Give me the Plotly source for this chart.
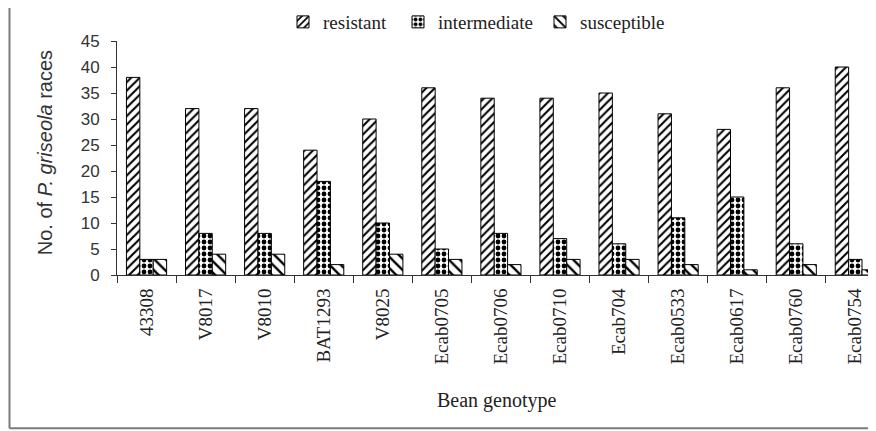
import plotly.graph_objects as go

genotypes = ["43308", "V8017", "V8010", "BAT1293", "V8025", "Ecab0705", "Ecab0706",
             "Ecab0710", "Ecab704", "Ecab0533", "Ecab0617", "Ecab0760", "Ecab0754"]
resistant = [38, 32, 32, 24, 30, 36, 34, 34, 35, 31, 28, 36, 40]
intermediate = [3, 8, 8, 18, 10, 5, 8, 7, 6, 11, 15, 6, 3]
susceptible = [3, 4, 4, 2, 4, 3, 2, 3, 3, 2, 1, 2, 1]
y_ticks = [0, 5, 10, 15, 20, 25, 30, 35, 40, 45]

SERIF = "Liberation Serif, Times New Roman, serif"
SANS = "Liberation Sans, Arial, sans-serif"
OFF = 8  # page body margin of the rendered html
W, H = 876, 431
# plot area in screen pixels
SL, SR, ST, SB = 117, 876, 41, 275.5
ML, MT = SL - OFF, ST - OFF
MR = W - (SR - OFF)
MB = H - (SB - OFF)
PW, PH = W - ML - MR, H - MT - MB


def px_x(p):
    return (p - OFF - ML) / PW


def px_y(p):
    return (H - MB - (p - OFF)) / PH


fig = go.Figure()
series = [
    ("resistant", resistant, "/", 6, 0.35, "legend", 283),
    ("intermediate", intermediate, ".", 6, 0.5, "legend2", 398),
    ("susceptible", susceptible, "\\", 8, 0.3, "legend3", 540),
]
legends = {}
for name, vals, shape, size, sol, lg, lx in series:
    fig.add_trace(go.Bar(
        name=name, x=genotypes, y=vals, legend=lg,
        marker=dict(color="white", line=dict(color="black", width=1),
                    pattern=dict(shape=shape, size=size, solidity=sol,
                                 fgcolor="black", bgcolor="white", fillmode="replace")),
    ))
    legends[lg] = dict(orientation="h", x=px_x(lx), xanchor="left", y=px_y(22),
                       yanchor="middle", font=dict(family=SERIF, size=19, color="#222"),
                       bgcolor="rgba(0,0,0,0)", borderwidth=0, itemwidth=30)

border = "#7a7a7a"
for x0, y0, x1, y1 in [
    (px_x(9.5), px_y(7), px_x(9.5), px_y(429)),
    (px_x(9.5), px_y(7), px_x(890), px_y(7)),
    (px_x(9.5), px_y(429), px_x(890), px_y(429)),
]:
    fig.add_shape(type="line", xref="paper", yref="paper", x0=x0, y0=y0, x1=x1, y1=y1,
                  line=dict(color=border, width=2))

fig.add_annotation(text="No. of <i>P. griseola</i> races", xref="paper", yref="paper",
                   x=px_x(45), y=px_y(153.5), xanchor="center", yanchor="middle",
                   textangle=-90, showarrow=False,
                   font=dict(family=SANS, size=20, color="#333"))
fig.add_annotation(text="Bean genotype", xref="paper", yref="paper",
                   x=px_x(497), y=px_y(401), xanchor="center", yanchor="middle",
                   showarrow=False,
                   font=dict(family=SERIF, size=20, color="#222"))

fig.update_layout(
    width=W, height=H,
    margin=dict(l=ML, r=MR, t=MT, b=MB, autoexpand=False),
    paper_bgcolor="white", plot_bgcolor="white",
    barmode="group", bargap=0.32, bargroupgap=0,
    font=dict(family=SERIF, color="#222"),
    showlegend=True,
    legend=legends["legend"], legend2=legends["legend2"], legend3=legends["legend3"],
    xaxis=dict(range=[-0.5, 12.35], tickson="boundaries", ticks="outside", ticklen=7,
               tickcolor="#333", tickangle=-90, showline=True, linecolor="#333",
               showgrid=False, tickfont=dict(family=SERIF, size=19, color="#222"),
               ticklabelstandoff=5),
    yaxis=dict(range=[0, 45], tickvals=y_ticks, ticks="outside", ticklen=5,
               tickcolor="#333", showline=True, linecolor="#333", showgrid=False,
               zeroline=False, tickfont=dict(family=SANS, size=17, color="#333"),
               ticklabelstandoff=8),
)

fig.write_html("out.html")
